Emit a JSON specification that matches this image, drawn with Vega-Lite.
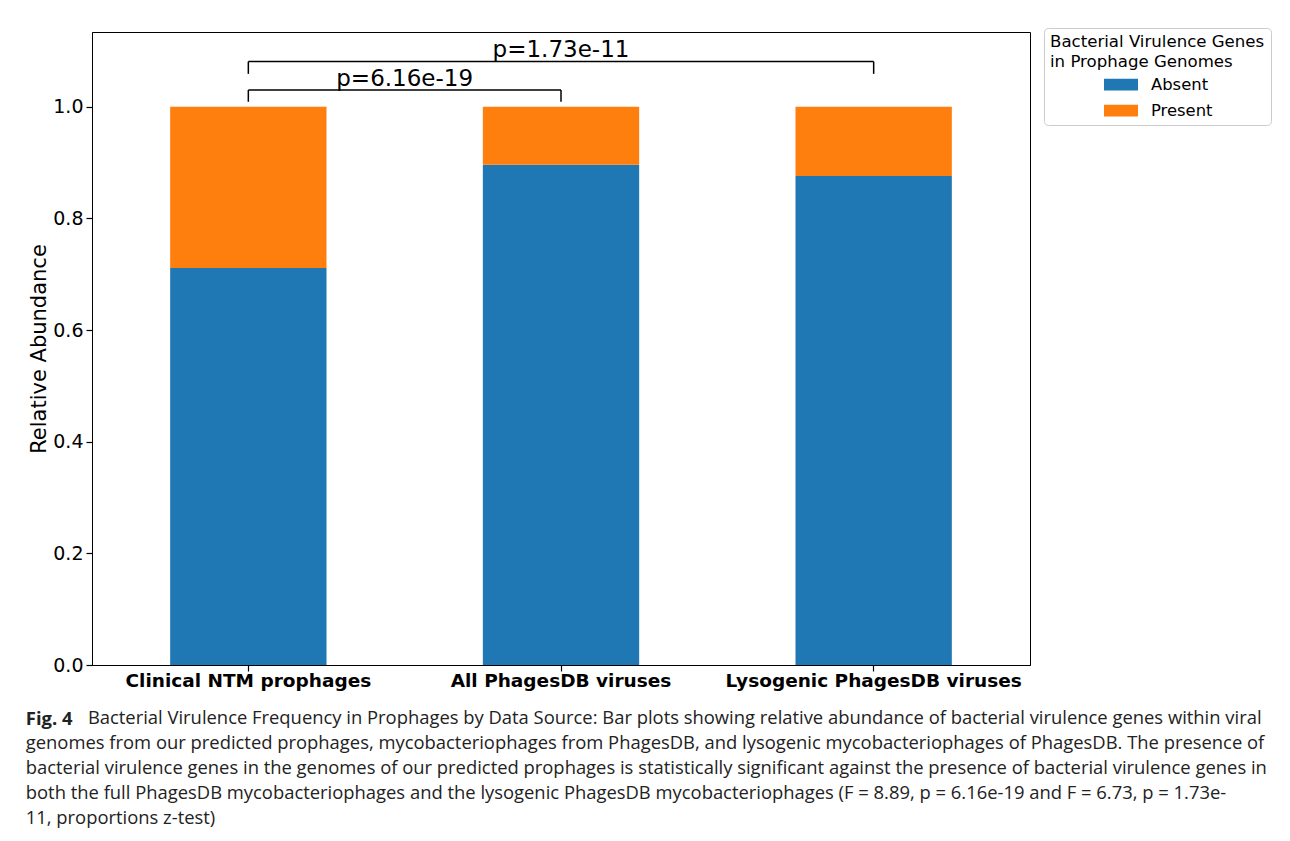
{
  "$schema": "https://vega.github.io/schema/vega-lite/v6.json",
  "width": 938,
  "height": 633,
  "padding": {"left": 25, "top": 27, "right": 5, "bottom": 5},
  "background": "white",
  "datasets": {
    "bars": [
      {"source": "Clinical NTM prophages", "status": "Absent", "fraction": 0.711},
      {"source": "Clinical NTM prophages", "status": "Present", "fraction": 0.289},
      {"source": "All PhagesDB viruses", "status": "Absent", "fraction": 0.896},
      {"source": "All PhagesDB viruses", "status": "Present", "fraction": 0.104},
      {"source": "Lysogenic PhagesDB viruses", "status": "Absent", "fraction": 0.876},
      {"source": "Lysogenic PhagesDB viruses", "status": "Present", "fraction": 0.124}
    ],
    "brackets": [
      {"from": "Clinical NTM prophages", "to": "All PhagesDB viruses", "y": 1.030, "y2": 1.030},
      {"from": "Clinical NTM prophages", "to": "Clinical NTM prophages", "y": 1.009, "y2": 1.030},
      {"from": "All PhagesDB viruses", "to": "All PhagesDB viruses", "y": 1.009, "y2": 1.030},
      {"from": "Clinical NTM prophages", "to": "Lysogenic PhagesDB viruses", "y": 1.081, "y2": 1.081},
      {"from": "Clinical NTM prophages", "to": "Clinical NTM prophages", "y": 1.059, "y2": 1.081},
      {"from": "Lysogenic PhagesDB viruses", "to": "Lysogenic PhagesDB viruses", "y": 1.059, "y2": 1.081}
    ]
  },
  "layer": [
    {
      "data": {"name": "bars"},
      "mark": {"type": "bar"},
      "encoding": {
        "x": {
          "field": "source", "type": "nominal",
          "scale": {"domain": ["Clinical NTM prophages", "All PhagesDB viruses", "Lysogenic PhagesDB viruses"], "paddingInner": 0.5, "paddingOuter": 0.25},
          "axis": {"title": null, "labelAngle": 0, "labelFontWeight": "bold", "labelFontSize": 18.5, "labelPadding": 0, "labelLimit": 0}
        },
        "y": {
          "field": "fraction", "type": "quantitative", "stack": "zero",
          "scale": {"domain": [0, 1.134], "nice": false},
          "axis": {"title": "Relative Abundance", "values": [0, 0.2, 0.4, 0.6, 0.8, 1.0], "format": ".1f", "titleFontSize": 21, "titleFontWeight": "normal", "labelFontSize": 19, "titlePadding": 3, "labelPadding": 3}
        },
        "color": {
          "field": "status", "type": "nominal",
          "scale": {"domain": ["Absent", "Present"], "range": ["#1f77b4", "#ff7f0e"]},
          "legend": {
            "title": ["Bacterial Virulence Genes", "in Prophage Genomes"],
            "orient": "none", "legendX": 952, "legendY": -4
          }
        },
        "order": {"field": "status", "sort": "ascending"}
      }
    },
    {
      "data": {"name": "brackets"},
      "mark": {"type": "rule", "color": "black", "strokeWidth": 1.5},
      "encoding": {
        "x": {"field": "from", "type": "nominal"},
        "x2": {"field": "to"},
        "y": {"field": "y", "type": "quantitative"},
        "y2": {"field": "y2"}
      }
    },
    {
      "data": {"values": [{"source": "Clinical NTM prophages", "label": "p=6.16e-19", "pos": 1.038}]},
      "mark": {"type": "text", "fontSize": 23, "baseline": "alphabetic", "align": "center", "color": "black"},
      "encoding": {
        "x": {"field": "source", "type": "nominal", "bandPosition": 1.5},
        "y": {"field": "pos", "type": "quantitative"},
        "text": {"field": "label"}
      }
    },
    {
      "data": {"values": [{"source": "All PhagesDB viruses", "label": "p=1.73e-11", "pos": 1.089}]},
      "mark": {"type": "text", "fontSize": 23, "baseline": "alphabetic", "align": "center", "color": "black"},
      "encoding": {
        "x": {"field": "source", "type": "nominal"},
        "y": {"field": "pos", "type": "quantitative"},
        "text": {"field": "label"}
      }
    }
  ],
  "title": {
    "text": "Fig. 4",
    "subtitle": [
      "\u200b\u00a0\u00a0\u00a0\u00a0\u00a0\u00a0\u00a0\u00a0\u00a0\u00a0\u00a0\u00a0\u00a0Bacterial Virulence Frequency in Prophages by Data Source: Bar plots showing relative abundance of bacterial virulence genes within viral",
      "genomes from our predicted prophages, mycobacteriophages from PhagesDB, and lysogenic mycobacteriophages of PhagesDB. The presence of",
      "bacterial virulence genes in the genomes of our predicted prophages is statistically significant against the presence of bacterial virulence genes in",
      "both the full PhagesDB mycobacteriophages and the lysogenic PhagesDB mycobacteriophages (F = 8.89, p = 6.16e-19 and F = 6.73, p = 1.73e-",
      "11, proportions z-test)"
    ],
    "orient": "bottom",
    "anchor": "start",
    "frame": "bounds",
    "dx": -3,
    "font": "Open Sans",
    "fontSize": 18.4,
    "fontWeight": "bold",
    "color": "#222",
    "subtitleFont": "Open Sans",
    "subtitleFontSize": 18.4,
    "subtitleColor": "#222",
    "subtitleLineHeight": 25,
    "subtitlePadding": -19,
    "offset": 20
  },
  "config": {
    "font": "DejaVu Sans",
    "view": {"stroke": "black", "strokeWidth": 1},
    "axis": {
      "grid": false,
      "domainColor": "black",
      "tickColor": "black",
      "labelColor": "black",
      "titleColor": "black",
      "labelFont": "DejaVu Sans",
      "titleFont": "DejaVu Sans",
      "tickSize": 6,
      "tickWidth": 1.2,
      "domainWidth": 1
    },
    "legend": {
      "titleFont": "DejaVu Sans",
      "titleFontSize": 16.6,
      "titleFontWeight": "normal",
      "titleColor": "black",
      "titleLineHeight": 20,
      "titleLimit": 0,
      "titlePadding": -3,
      "labelFont": "DejaVu Sans",
      "labelFontSize": 16.4,
      "labelColor": "black",
      "labelLimit": 0,
      "symbolType": "M-1,-0.35H1V0.35H-1Z",
      "symbolSize": 1156,
      "symbolStrokeWidth": 0,
      "symbolOffset": 54,
      "labelOffset": 13,
      "padding": 6,
      "strokeColor": "#cccccc",
      "fillColor": "white",
      "cornerRadius": 4,
      "rowPadding": -2
    }
  }
}
